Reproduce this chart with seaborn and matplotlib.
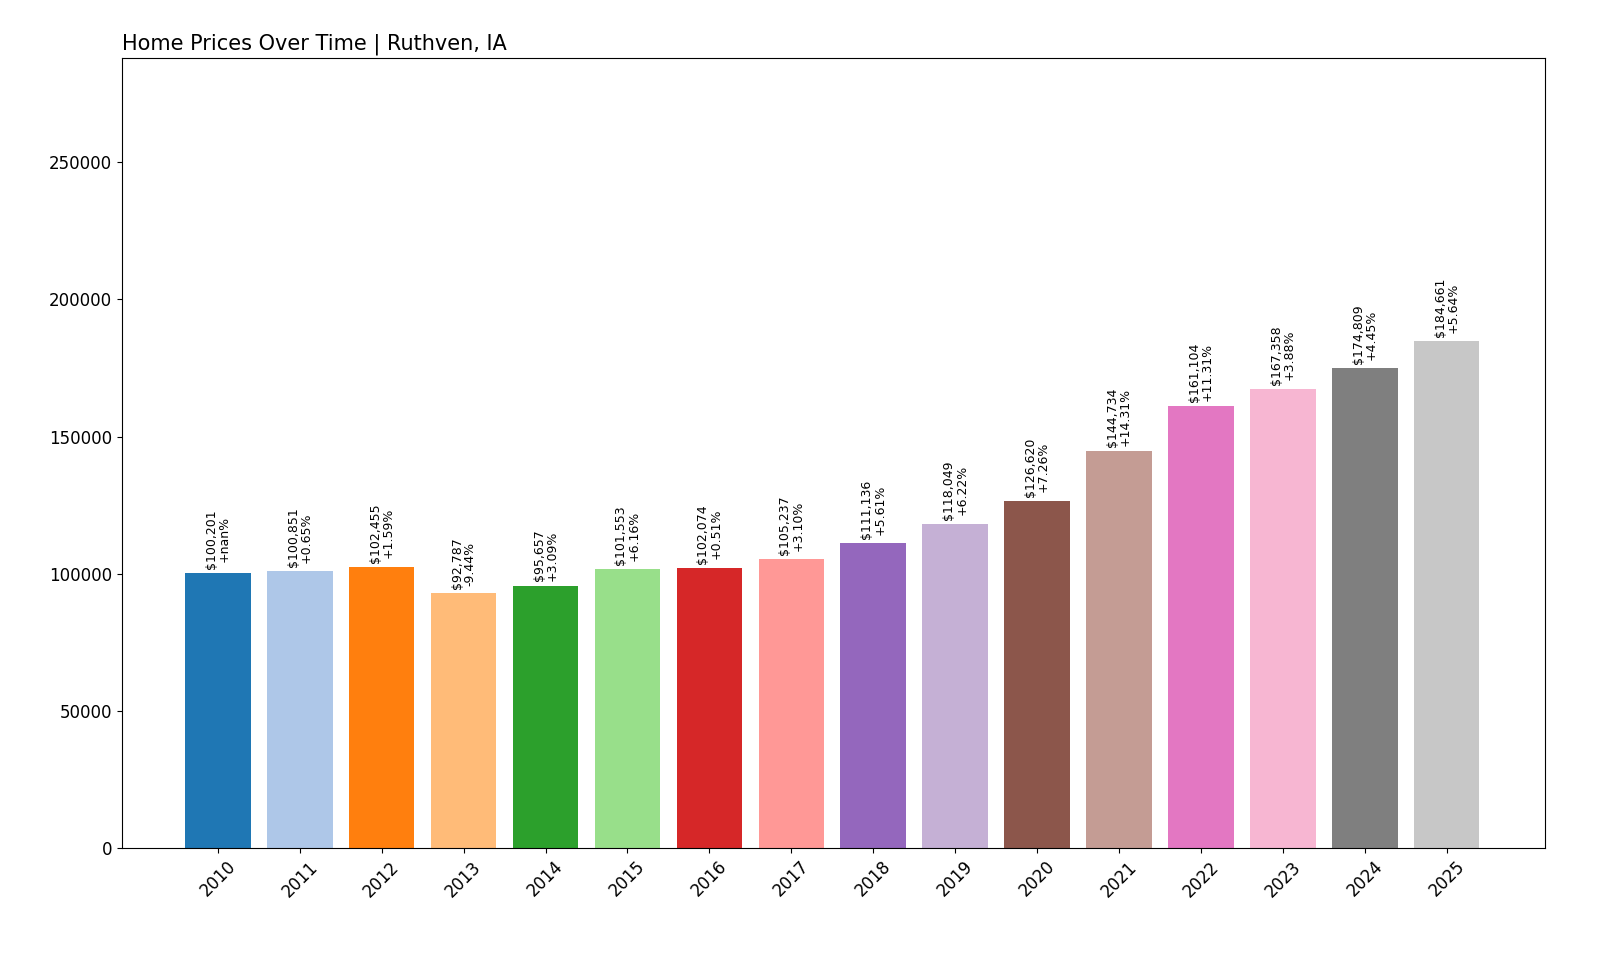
import matplotlib
matplotlib.use("Agg")
import matplotlib.pyplot as plt
import seaborn as sns
import pandas as pd

years = [str(y) for y in range(2010, 2026)]
prices = [100201, 100851, 102455, 92787, 95657, 101553, 102074, 105237, 111136,
          118049, 126620, 144734, 161104, 167358, 174809, 184661]
changes = ["+nan%", "+0.65%", "+1.59%", "-9.44%", "+3.09%", "+6.16%", "+0.51%", "+3.10%",
           "+5.61%", "+6.22%", "+7.26%", "+14.31%", "+11.31%", "+3.88%", "+4.45%", "+5.64%"]

df = pd.DataFrame({"year": years, "price": prices})
fig = plt.figure(figsize=(16, 9.6), dpi=100)
ax = fig.add_axes([122/1600, 1-848/960, (1545-122)/1600, (848-58)/960])
sns.barplot(data=df, x="year", y="price", hue="year", palette=sns.color_palette("tab20", 16),
            legend=False, ax=ax, width=0.8, saturation=1)
for i, (p, c) in enumerate(zip(prices, changes)):
    ax.text(i, p + 1500, f"${p:,}\n{c}", rotation=90, ha="center", va="bottom", fontsize=9, linespacing=1.0)
ax.set_xlim(-1.17, 16.2)
ax.set_ylim(0, 288000)
ax.set_xlabel("")
ax.set_ylabel("")
ax.tick_params(axis="x", rotation=45, labelsize=12)
ax.tick_params(axis="y", labelsize=12)
ax.set_title("Home Prices Over Time | Ruthven, IA", loc="left", fontsize=15)
fig.savefig("out.png", dpi=100)
